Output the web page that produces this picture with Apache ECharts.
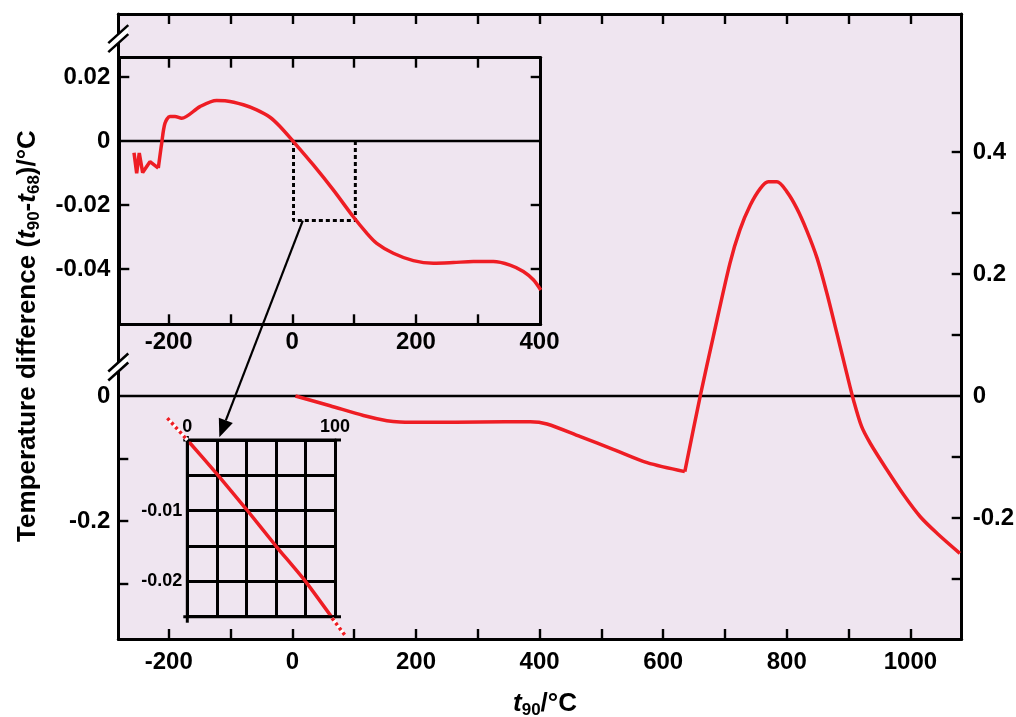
<!DOCTYPE html>
<html><head><meta charset="utf-8">
<script src="https://cdn.jsdelivr.net/npm/echarts@6/dist/echarts.min.js"></script>
<style>html,body{margin:0;padding:0;background:#fff}#c{width:1016px;height:717px}</style>
</head><body><div id="c"></div>
<script>
// ---------- data ----------
// Main curve, t90 (°C) vs t90-t68 (°C), two pieces joined at the 630 °C kink
const mainTempA = [5, 61, 115, 153, 174, 223, 304, 385, 412, 466, 519, 574, 635];
const mainDiffA = [0, -0.016, -0.032, -0.0405, -0.0426, -0.0431, -0.0426, -0.0421, -0.0459, -0.0667, -0.0874, -0.1093, -0.124];
const mainTempB = [635, 660, 681, 708, 724, 741, 757, 770, 784, 800, 816, 832, 849, 865, 881, 897, 908, 921, 935, 962, 989, 1016, 1043, 1080];
const mainDiffB = [-0.124, 0, 0.097, 0.2175, 0.272, 0.313, 0.340, 0.351, 0.351, 0.335, 0.308, 0.272, 0.226, 0.168, 0.103, 0.037, -0.007, -0.050, -0.0775, -0.121, -0.162, -0.198, -0.225, -0.258];

// Upper inset (-260 .. 400 °C)
const insetTempZig = [-256.1, -251.8, -247.6, -242.1, -230.3, -216.8];
const insetDiffZig = [-0.0037, -0.0101, -0.0038, -0.0099, -0.0065, -0.0085];
const insetTemp = [-216.8, -211.3, -206, -198, -189.8, -179, -149.4, -122.4, -106.1, -79.2, -57.6, -36.1, -19.9, 1.7, 34, 66.3, 98.7, 120.4, 136.6, 163.4, 195.8, 228.2, 260.5, 292.9, 325.2, 352.3, 373.8, 390, 402];
const insetDiff = [-0.0085, -0.0007, 0.0055, 0.0076, 0.0076, 0.0071, 0.0107, 0.0126, 0.0125, 0.0113, 0.0097, 0.0074, 0.0045, -0.0002, -0.0075, -0.0153, -0.0237, -0.0288, -0.032, -0.0351, -0.0374, -0.0382, -0.038, -0.0377, -0.0377, -0.0388, -0.0408, -0.0434, -0.0466];
// dotted zoom box in the upper inset
const boxTemp = [2, 2, 102, 102];
const boxDiff = [0, -0.0249, -0.0249, 0];

// Lower zoom grid (0 .. 100 °C)
const zoomTemp = [0, 20, 40, 60, 80, 100];
const zoomDiff = [0, -0.0048, -0.0098, -0.0150, -0.0200, -0.0257];
const zoomExtTempA = [-13.5, 0];
const zoomExtDiffA = [0.0031, 0];
const zoomExtTempB = [98, 106.6];
const zoomExtDiffB = [-0.0252, -0.0276];

// Axis ranges, ticks and labels
const mainXRange = [-281.6, 1083];
const mainXTicks = [-200, -100, 0, 100, 200, 300, 400, 500, 600, 700, 800, 900, 1000];
const mainXLabels = [-200, 0, 200, 400, 600, 800, 1000];
const mainLeftRange = [-0.3888, 0.6112];
const mainLeftTicks = [-0.1, -0.2, -0.3];
const mainLeftLabels = [0, -0.2];
const mainRightRange = [-0.3984, 0.6262];
const mainRightTicks = [-0.3, -0.2, -0.1, 0.1, 0.2, 0.3, 0.4];
const mainRightLabels = [-0.2, 0, 0.2, 0.4];

const insetXRange = [-279.9, 401.9];
const insetXTicks = [-200, -100, 0, 100, 200, 300];
const insetXLabels = [-200, 0, 200, 400];
const insetYRange = [-0.0573, 0.0260];
const insetYTicks = [0.02, -0.02, -0.04];
const insetYLabels = [0.02, 0, -0.02, -0.04];

const zoomXRange = [0, 100];
const zoomYRange = [-0.025, 0];
const zoomXLabels = [0, 100];
const zoomYLabels = [-0.01, -0.02];

// arrow: from the inset box edge to the zoom grid corner; axis-break marks on left axis
const arrowFrom = [17, -0.0249];   // inset coordinates
const arrowTo = [21.7, 0.0004];    // zoom-grid coordinates
const breakVals = [0.5717, 0.0464]; // main left-axis values

// ---------- styling ----------
const FONT = "'Liberation Sans', Arial, Helvetica, sans-serif";
const BG = '#EFE5F0';
const RED = '#EE1D24';
const INK = '#000';

const zip = (a, b) => a.map((v, i) => [v, b[i]]);
const fmt = v => String(v);

function ax(grid, range, pos, ticks, labels, size, margin) {
  return {
    type: 'value', gridIndex: grid, min: range[0], max: range[1], position: pos,
    axisLine: { show: true, onZero: false, lineStyle: { color: INK, width: 3 } },
    axisTick: { show: true, customValues: ticks, inside: true, length: 10, lineStyle: { color: INK, width: 2.4 } },
    axisLabel: labels ? { show: true, customValues: labels, formatter: fmt, color: INK, fontSize: size, fontWeight: 'bold', fontFamily: FONT, margin: margin } : { show: false },
    splitLine: { show: false }
  };
}

const gridBase = { show: true, backgroundColor: BG, borderWidth: 0, containLabel: false, outerBoundsMode: 'none' };

const lineS = (xi, yi, data, extra) => Object.assign({
  type: 'line', xAxisIndex: xi, yAxisIndex: yi, data: data, symbol: 'none', silent: true,
  animation: false, lineStyle: { color: RED, width: 3.5 }, z: 3
}, extra || {});

const option = {
  animation: false,
  textStyle: { fontFamily: FONT },
  grid: [
    Object.assign({ left: 118.3, top: 14, width: 843.4, height: 625 }, gridBase),
    Object.assign({ left: 119.3, top: 57.7, width: 421.4, height: 266.6 }, gridBase),
    Object.assign({ left: 187.3, top: 440, width: 147.7, height: 176.7 }, gridBase, { show: false })
  ],
  xAxis: [
    ax(0, mainXRange, 'bottom', mainXTicks, mainXLabels, 24, 11),
    ax(0, mainXRange, 'top', mainXTicks, null),
    ax(1, insetXRange, 'bottom', insetXTicks, insetXLabels, 24, 6),
    ax(1, insetXRange, 'top', insetXTicks, null),
    {
      type: 'value', gridIndex: 2, min: zoomXRange[0], max: zoomXRange[1], interval: 20, position: 'top',
      axisLine: { show: true, onZero: false, lineStyle: { color: INK, width: 3 } },
      axisTick: { show: false },
      axisLabel: { show: true, customValues: zoomXLabels, formatter: fmt, color: INK, fontSize: 18, fontWeight: 'bold', fontFamily: FONT, margin: 4 },
      splitLine: { show: true, lineStyle: { color: INK, width: 3 } }
    },
    {
      type: 'value', gridIndex: 2, min: zoomXRange[0], max: zoomXRange[1], interval: 20, position: 'bottom',
      axisLine: { show: true, onZero: false, lineStyle: { color: INK, width: 3 } },
      axisTick: { show: false }, axisLabel: { show: false }, splitLine: { show: false }
    }
  ],
  yAxis: [
    ax(0, mainLeftRange, 'left', mainLeftTicks, mainLeftLabels, 24, 8),
    ax(0, mainRightRange, 'right', mainRightTicks, mainRightLabels, 24, 11),
    ax(1, insetYRange, 'left', insetYTicks, insetYLabels, 24, 9),
    ax(1, insetYRange, 'right', insetYTicks, null),
    {
      type: 'value', gridIndex: 2, min: zoomYRange[0], max: zoomYRange[1], interval: 0.005, position: 'left',
      axisLine: { show: true, onZero: false, lineStyle: { color: INK, width: 3 } },
      axisTick: { show: false },
      axisLabel: { show: true, customValues: zoomYLabels, formatter: fmt, color: INK, fontSize: 18, fontWeight: 'bold', fontFamily: FONT, margin: 5 },
      splitLine: { show: true, lineStyle: { color: INK, width: 3 } }
    },
    {
      type: 'value', gridIndex: 2, min: zoomYRange[0], max: zoomYRange[1], interval: 0.005, position: 'right',
      axisLine: { show: true, onZero: false, lineStyle: { color: INK, width: 3 } },
      axisTick: { show: false }, axisLabel: { show: false }, splitLine: { show: false }
    }
  ],
  series: [
    lineS(0, 1, [[mainXRange[0], 0], [mainXRange[1], 0]], { lineStyle: { color: INK, width: 2.5 }, z: 2 }),
    lineS(0, 1, zip(mainTempA, mainDiffA), { smooth: 0.3 }),
    lineS(0, 1, zip(mainTempB, mainDiffB), { smooth: 0.3 }),
    lineS(2, 2, [[insetXRange[0], 0], [insetXRange[1], 0]], { lineStyle: { color: INK, width: 2.5 }, z: 2 }),
    lineS(2, 2, zip(insetTempZig, insetDiffZig), { lineStyle: { color: RED, width: 3.5, join: 'bevel' } }),
    lineS(2, 2, zip(insetTemp, insetDiff), { smooth: 0.3 }),
    lineS(2, 2, zip(boxTemp, boxDiff), { lineStyle: { color: INK, width: 3, type: [4, 3] }, z: 2 }),
    lineS(4, 4, zip(zoomTemp, zoomDiff), { smooth: 0.2 })
  ]
};

const chart = echarts.init(document.getElementById('c'), null, { renderer: 'canvas' });
chart.setOption(option);

// ---------- annotations positioned through the axes ----------
const g = [];
const px = (xi, v) => chart.convertToPixel({ xAxisIndex: xi }, v);
const py = (yi, v) => chart.convertToPixel({ yAxisIndex: yi }, v);
const seg = (x1, y1, x2, y2, st, z) => g.push({ type: 'line', z: z || 100, silent: true, shape: { x1: x1, y1: y1, x2: x2, y2: y2 }, style: Object.assign({}, st) });

// small overshoots of the zoom-grid frame lines
const zx0 = px(4, zoomXRange[0]), zx1 = px(4, zoomXRange[1]);
const zy0 = py(4, zoomYRange[1]), zy1 = py(4, zoomYRange[0]);
const frameSt = { stroke: INK, lineWidth: 3 };
seg(zx0 - 4, zy0, zx1 + 6, zy0, frameSt, 40);
seg(zx0 - 4, zy1, zx1 + 6, zy1, frameSt, 40);
seg(zx0, zy0 - 4, zx0, zy1 + 6, frameSt, 40);

// titles
const big = { fontSize: 26, fontWeight: 'bold', fontFamily: FONT, fill: INK, lineHeight: 30 };
const rich = {
  n: big,
  i: Object.assign({}, big, { fontStyle: 'italic' }),
  s: { fontSize: 17, fontWeight: 'bold', fontFamily: FONT, fill: INK, lineHeight: 14, verticalAlign: 'bottom' }
};
g.push({
  type: 'text', x: 28, y: 336, rotation: Math.PI / 2, z: 100,
  style: { text: '{n|Temperature difference (}{i|t}{s|90}{n|-}{i|t}{s|68}{n|)/°C}', rich: rich, align: 'center', verticalAlign: 'middle' }
});
g.push({
  type: 'text', x: 545, y: 704, z: 100,
  style: { text: '{i|t}{s|90}{n|/°C}', rich: rich, align: 'center', verticalAlign: 'middle' }
});

// dotted continuations of the zoomed curve
[[zoomExtTempA, zoomExtDiffA], [zoomExtTempB, zoomExtDiffB]].forEach(([xs, ys]) => {
  const a = chart.convertToPixel({ seriesIndex: 7 }, [xs[0], ys[0]]);
  const b = chart.convertToPixel({ seriesIndex: 7 }, [xs[1], ys[1]]);
  seg(a[0], a[1], b[0], b[1], { stroke: '#fff', lineWidth: 3.5 }, 50);
  seg(a[0], a[1], b[0], b[1], { stroke: RED, lineWidth: 3.5, lineDash: [3, 3] }, 51);
});

// arrow
const p1 = chart.convertToPixel({ seriesIndex: 5 }, arrowFrom);
const p2 = chart.convertToPixel({ seriesIndex: 7 }, arrowTo);
const dx = p2[0] - p1[0], dy = p2[1] - p1[1], L = Math.hypot(dx, dy);
const ux = dx / L, uy = dy / L, hl = 18, hw = 7.5;
const bx = p2[0] - ux * hl, by = p2[1] - uy * hl;
seg(p1[0], p1[1], bx, by, { stroke: INK, lineWidth: 2.2 });
g.push({ type: 'polygon', z: 100, silent: true, shape: { points: [[p2[0], p2[1]], [bx - uy * hw, by + ux * hw], [bx + uy * hw, by - ux * hw]] }, style: { fill: INK } });

// axis breaks on the left axis
const xL = px(0, mainXRange[0]);
breakVals.forEach(v => {
  const yc = py(0, v);
  const a = [[xL - 10, yc - 4.5 + 9], [xL + 10, yc - 4.5 - 9]];
  const b = [[xL - 10, yc + 4.5 + 9], [xL + 10, yc + 4.5 - 9]];
  g.push({ type: 'polygon', z: 99, silent: true, shape: { points: [a[0], a[1], b[1], b[0]] }, style: { fill: '#fff' } });
  seg(a[0][0], a[0][1], a[1][0], a[1][1], { stroke: INK, lineWidth: 2.5 });
  seg(b[0][0], b[0][1], b[1][0], b[1][1], { stroke: INK, lineWidth: 2.5 });
});
chart.setOption({ graphic: g });
</script>
</body></html>
